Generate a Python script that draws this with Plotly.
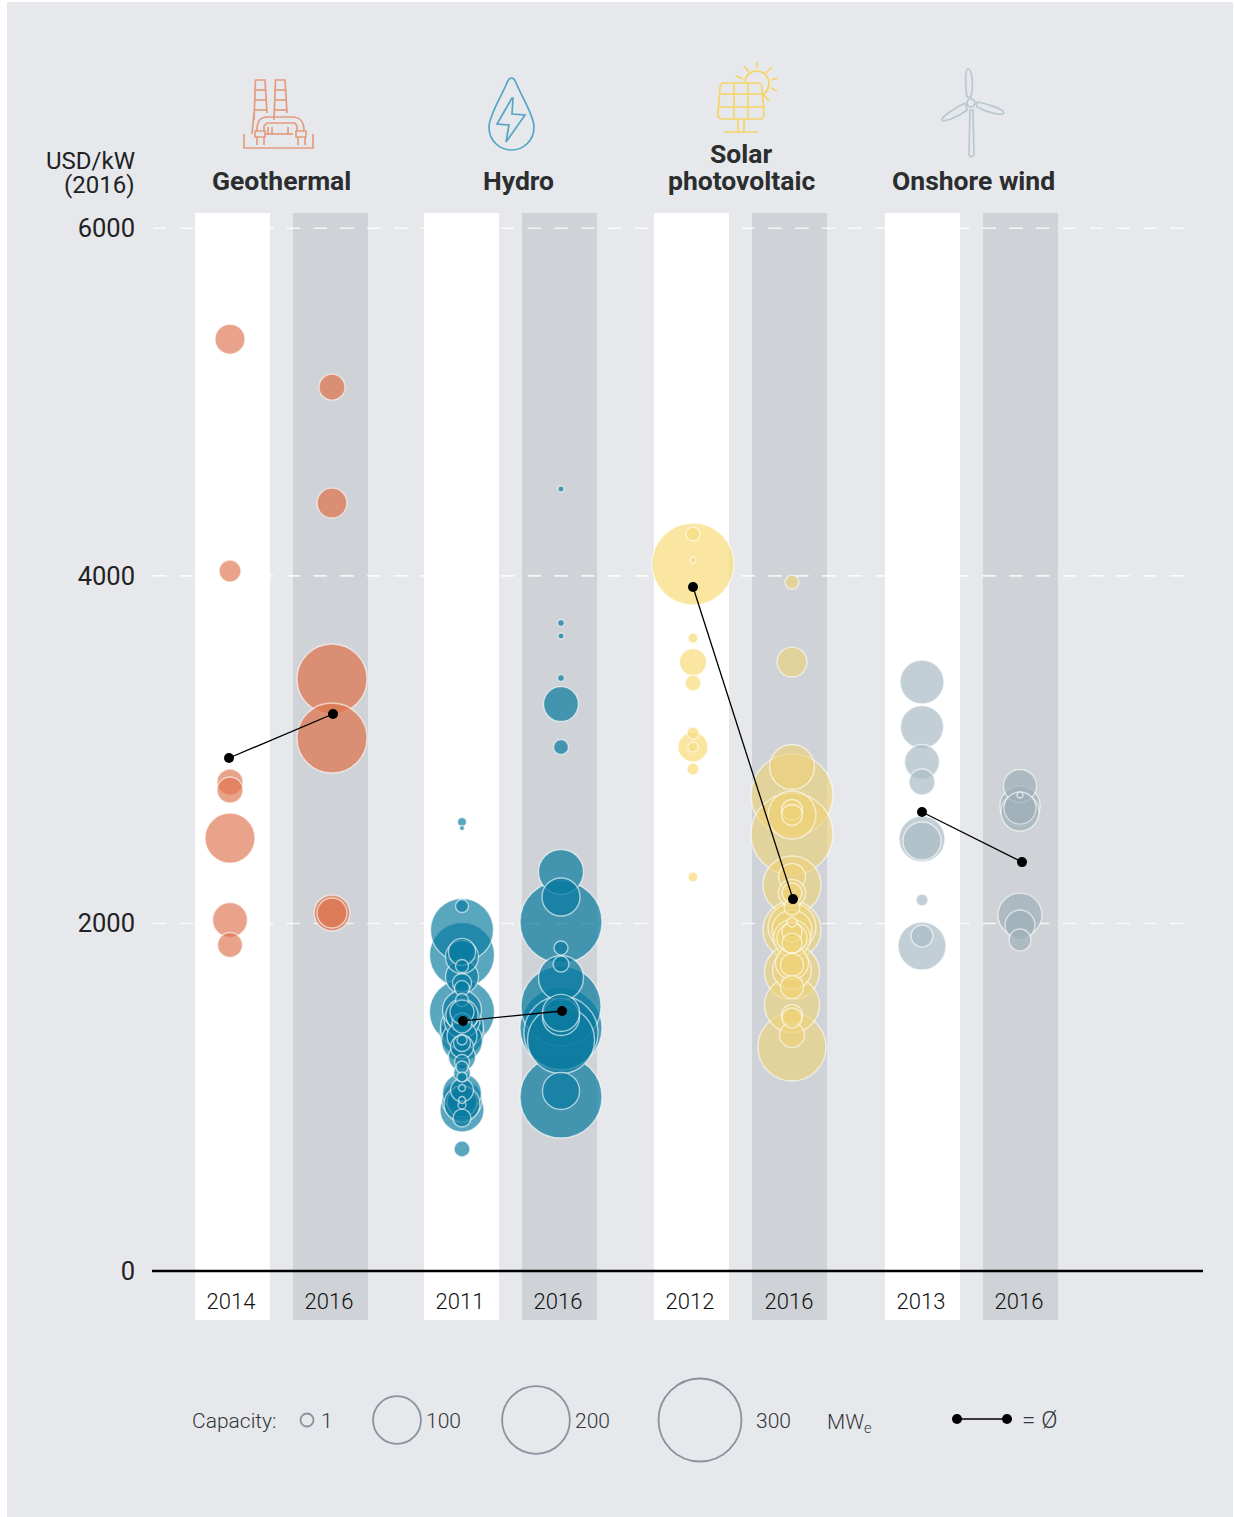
import plotly.graph_objects as go

# ---------- data ----------
y_ticks = [0, 2000, 4000, 6000]
band_years = ["2014", "2016", "2011", "2016", "2012", "2016", "2013", "2016"]
band_top = 6088
band_bottom = -282

geo_2014_usd = [2491, 5362, 4028, 2814, 2768, 2020, 1876]
geo_2014_mw = [109, 39, 21, 29.5, 29.5, 53, 27]
geo_2016_usd = [3406, 3067, 5086, 4419, 2060, 2060]
geo_2016_mw = [214, 214, 29.5, 39, 56, 39]

hydro_2011_usd = [1818, 1962, 1490, 926, 1364, 1404, 1323, 984, 1024, 972, 961, 1444, 1692, 1502, 1807, 1473, 1352, 1231, 1836, 1289, 1041,
                  1427, 880, 1657, 1139, 702, 1628, 1203, 1312, 1174, 1559, 1490, 1755, 2100, 1116, 1329, 955, 984, 1053, 2584, 2549]
hydro_2011_mw = [184, 173, 184, 84, 84, 81, 73, 70, 66, 39, 56, 56, 47.5, 66, 47.5, 45, 39, 32, 32, 23, 23,
                 17.4, 14, 15.7, 12.6, 11, 9.8, 9.8, 12.6, 6.3, 7.4, 25, 7.4, 7.4, 4.4, 4.4, 2.8, 2.1, 2.1, 3.5, 1.1]
hydro_2016_usd = [1001, 2008, 1398, 1525, 1369, 1329, 1686, 2296, 2152, 1462, 1485, 1036, 3262, 1766, 3015, 1859, 3729, 3412, 3654, 4500]
hydro_2016_mw = [293, 293, 293, 279, 239, 196, 88, 88, 63, 60, 60, 60, 53, 11, 9.8, 8.5, 2.1, 2.1, 1.6, 1.6]

solar_2012_usd = [4068, 3504, 3015, 3383, 4241, 3642, 3096, 2889, 2267, 3015, 4091]
solar_2012_mw = [293, 32, 39, 11, 8.5, 4.4, 6.3, 6.3, 4.4, 4.4, 1.6]
solar_2016_usd = [2739, 2514, 1289, 2221, 1962, 1720, 1531, 2624, 1979, 2900, 1732, 1962, 1916, 3504, 1772,
                  2267, 2175, 1358, 1916, 1761, 1634, 2653, 2624, 1473, 1951, 1887, 1456, 2175, 2094, 3964, 2008]
solar_2016_mw = [293, 293, 202, 147, 147, 132, 132, 100, 100, 88, 66, 70, 60, 39, 47.5,
                 32, 32, 27, 39, 23, 23, 19, 19, 19, 17.4, 17.4, 17.4, 17.4, 11, 8.5, 4.4]

wind_2013_usd = [1870, 2486, 3389, 3130, 2474, 2929, 2814, 1928, 2135]
wind_2013_mw = [100, 92, 84, 81, 63, 53, 29.5, 21, 6.3]
wind_2016_usd = [2048, 2676, 2641, 2791, 2664, 1991, 1905, 2739]
wind_2016_mw = [84, 70, 63, 47.5, 45, 39, 21, 1.6]

mean_geo = [2952, 3205]
mean_hydro = [1439, 1496]
mean_solar = [3936, 2140]
mean_wind = [2641, 2353]

legend_labels = ["1", "100", "200", "300"]
legend_ring_mw = [7.4, 100, 200, 300]

# ---------- layout constants (the x axis runs in canvas pixels) ----------
W, H = 1234, 1517
BASE_PY, TOP_PY = 1271, 213
band_x = [232.5, 330.5, 461.5, 559.5, 691.5, 789.5, 922.5, 1020.5]
tick_x = [231, 329, 460, 558, 690, 789, 921, 1019]
bubble_x = [230, 332, 462, 561, 693, 792, 922, 1020]
mean_x = [(229, 333), (463, 562), (693, 793), (922, 1022)]
USD_PER_PX = band_top / (BASE_PY - TOP_PY)
SIZEREF = 2 / 4.79 ** 2
BG = "#E6E8EC"
FONT = "Roboto"
INK = "#2B2D2F"


def val(py):
    return (BASE_PY - py) * USD_PER_PX


def fx(px):
    return px / W


def fy(py):
    return (H - py) / H


def icon_path(points):
    out = []
    for p in points:
        if isinstance(p, str):
            out.append(p)
        else:
            out.append(f"{fx(p[0]):.5f},{fy(p[1]):.5f}")
    return " ".join(out)


def poly(*pts, close=False):
    cmds = ["M", pts[0]]
    for p in pts[1:]:
        cmds += ["L", p]
    if close:
        cmds.append("Z")
    return icon_path(cmds)


def curve(*pts, close=False):
    cmds = ["M", pts[0]]
    for i in range(1, len(pts), 3):
        cmds += ["C", pts[i], pts[i + 1], pts[i + 2]]
    if close:
        cmds.append("Z")
    return icon_path(cmds)


def circle_path(cx, cy, r):
    k = 0.5523 * r
    return curve((cx + r, cy), (cx + r, cy + k), (cx + k, cy + r), (cx, cy + r),
                 (cx - k, cy + r), (cx - r, cy + k), (cx - r, cy),
                 (cx - r, cy - k), (cx - k, cy - r), (cx, cy - r),
                 (cx + k, cy - r), (cx + r, cy - k), (cx + r, cy), close=True)


fig = go.Figure()

# bands
fig.add_trace(go.Bar(x=band_x[0::2], y=[band_top - band_bottom] * 4, base=band_bottom, width=75,
                     marker=dict(color="#FFFFFF", line_width=0), hoverinfo="skip"))
fig.add_trace(go.Bar(x=band_x[1::2], y=[band_top - band_bottom] * 4, base=band_bottom, width=75,
                     marker=dict(color="#CFD2D6", line_width=0), hoverinfo="skip"))

# dashed gridlines
for t in y_ticks[1:]:
    fig.add_trace(go.Scatter(x=[153, 1184], y=[t, t], mode="lines",
                             line=dict(color="rgba(255,255,255,0.8)", width=1.6, dash="13.4px,13.36px"),
                             hoverinfo="skip"))

# baseline
fig.add_trace(go.Scatter(x=[152, 1203], y=[0, 0], mode="lines", line=dict(color="#000000", width=2.3), hoverinfo="skip"))

# bubbles
series = [
    (0, geo_2014_usd, geo_2014_mw, "rgba(222,116,78,0.66)"),
    (1, geo_2016_usd, geo_2016_mw, "rgba(222,116,78,0.72)"),
    (2, hydro_2011_usd, hydro_2011_mw, "rgba(11,124,160,0.68)"),
    (3, hydro_2016_usd, hydro_2016_mw, "rgba(11,124,160,0.72)"),
    (4, solar_2012_usd, solar_2012_mw, "rgba(248,220,125,0.72)"),
    (5, solar_2016_usd, solar_2016_mw, "rgba(238,210,120,0.62)"),
    (6, wind_2013_usd, wind_2013_mw, "rgba(170,188,198,0.72)"),
    (7, wind_2016_usd, wind_2016_mw, "rgba(160,176,186,0.72)"),
]
for idx, usd, mw, col in series:
    fig.add_trace(go.Scatter(
        x=[bubble_x[idx]] * len(usd), y=usd, mode="markers",
        marker=dict(size=mw, sizemode="area", sizeref=SIZEREF, color=col, opacity=1,
                    line=dict(color="rgba(255,255,255,0.6)", width=1.4)),
        hovertemplate="%{y} USD/kW<br>%{marker.size} MW<extra></extra>"))

# mean connectors
for xs, ys in zip(mean_x, [mean_geo, mean_hydro, mean_solar, mean_wind]):
    fig.add_trace(go.Scatter(x=list(xs), y=ys, mode="lines+markers",
                             line=dict(color="#000000", width=1.3),
                             marker=dict(color="#000000", size=10), hoverinfo="skip"))

# capacity legend
fig.add_trace(go.Scatter(
    x=[307, 397, 536, 700], y=[val(1420)] * 4, mode="markers",
    marker=dict(size=legend_ring_mw, sizemode="area", sizeref=SIZEREF, color="rgba(0,0,0,0)", opacity=1,
                line=dict(color="#87939F", width=1.8)), hoverinfo="skip"))
fig.add_trace(go.Scatter(x=[957, 1007], y=[val(1419)] * 2, mode="lines+markers",
                         line=dict(color="#000000", width=1.3),
                         marker=dict(color="#000000", size=10), hoverinfo="skip"))


def text(x, py, s, size=21, anchor="left", weight=300, color="#33363A"):
    fig.add_annotation(x=x, y=val(py), xref="x", yref="y", text=s, showarrow=False,
                       xanchor=anchor, yanchor="middle", align=anchor,
                       font=dict(family=FONT, size=size, color=color, weight=weight))


text(190, 1421, "Capacity:")
for xp, lab in zip([319, 424, 573, 754], legend_labels):
    text(xp, 1421, lab)
text(825, 1423, "MW<sub>e</sub>")
text(1020, 1420, "= Ø", size=24)

# headings
text(281, 180, "Geothermal", size=26.5, anchor="center", weight=700, color=INK)
text(518, 180, "Hydro", size=26.5, anchor="center", weight=700, color=INK)
text(741, 153, "Solar", size=26.5, anchor="center", weight=700, color=INK)
text(741, 180, "photovoltaic", size=26.5, anchor="center", weight=700, color=INK)
text(973, 180, "Onshore wind", size=26.5, anchor="center", weight=700, color=INK)
text(137, 161, "USD/kW", size=24, anchor="right", weight=400, color="#222222")
text(137, 185, "(2016)", size=24, anchor="right", weight=400, color="#222222")

# ---------- icons ----------
GEO, HYD, SOL, WND = "#E39C80", "#53A6C1", "#F6D566", "#B9C8CF"
shapes = [dict(type="rect", xref="paper", yref="paper", x0=fx(7), x1=fx(1233), y0=fy(1517), y1=fy(2),
               fillcolor=BG, line_width=0, layer="below")]


def stroke(path, col, width=1.7):
    shapes.append(dict(type="path", xref="paper", yref="paper", path=path,
                       line=dict(color=col, width=width), layer="above"))


# geothermal plant
for x0 in (254, 274):
    stroke(poly((x0, 120), (x0 + 1.5, 80), (x0 + 11, 80), (x0 + 13, 113)), GEO)
    for yy in (90, 100, 110):
        stroke(poly((x0 + 0.5, yy), (x0 + 12, yy)), GEO)
stroke(poly((252, 134), (254, 113)), GEO)
stroke(poly((244, 134), (244, 148), (313, 148), (313, 134)), GEO)
stroke(curve((257, 131), (257, 122), (259, 117), (268, 117)) + " " + poly((268, 117), (292, 117)) + " " +
       curve((292, 117), (301, 117), (304, 122), (304, 131)), GEO)
stroke(poly((264, 131), (264, 126), (267, 123), (295, 123), (297, 126), (297, 131)), GEO)
stroke(poly((266, 134), (293, 134)), GEO)
stroke(poly((268, 127), (268, 134)), GEO)
stroke(poly((272, 127), (272, 134)), GEO)
stroke(poly((288, 127), (288, 134)), GEO)
stroke(poly((255, 131), (265, 131), (265, 137), (255, 137), close=True), GEO)
stroke(poly((296, 131), (306, 131), (306, 137), (296, 137), close=True), GEO)
for xx in (257, 264, 298, 305):
    stroke(poly((xx, 137), (xx, 145)), GEO)

# hydro drop with bolt
stroke(curve((511.5, 78), (509, 78), (508, 80), (506, 85),
             (500, 99), (489, 116), (489, 127),
             (489, 141), (500, 150), (511.5, 150),
             (523, 150), (534, 141), (534, 127),
             (534, 116), (523, 99), (517, 85),
             (515, 80), (514, 78), (511.5, 78), close=True), HYD)
stroke(poly((512, 98), (497, 124), (509, 125), (506, 142), (525, 115), (512, 114), (513, 98), close=True), HYD)

# solar panel + sun
stroke(curve((725, 83), (721, 83), (720, 86), (720, 88)) + " " +
       poly((720, 88), (718, 114)) + " " +
       curve((718, 114), (718, 117), (720, 119), (723, 119)) + " " +
       poly((723, 119), (760, 119)) + " " +
       curve((760, 119), (763, 119), (764, 117), (764, 114)) + " " +
       poly((764, 114), (762, 88)) + " " +
       curve((762, 88), (762, 85), (760, 83), (757, 83)) + " " + poly((757, 83), (725, 83)), SOL)
stroke(poly((719, 94), (763, 94)), SOL)
stroke(poly((718, 107), (764, 107)), SOL)
stroke(poly((734, 83), (734, 119)), SOL)
stroke(poly((748, 83), (748, 119)), SOL)
stroke(poly((738, 119), (738, 132)), SOL)
stroke(poly((744, 119), (744, 132)), SOL)
stroke(poly((724, 132), (758, 132)), SOL)
stroke(curve((745, 83), (745, 75), (751, 71), (757, 71),
             (764, 71), (769, 77), (769, 83),
             (769, 88), (767, 92), (763, 95)), SOL)
for a, b in [((757, 62), (757, 68)), ((744, 66), (749, 72)), ((736, 76), (743, 79)), ((772, 67), (766, 73)),
             ((778, 78), (771, 80)), ((777, 91), (771, 88)), ((769, 101), (764, 95))]:
    stroke(poly(a, b), SOL)

# wind turbine
stroke(circle_path(971, 103, 4), WND)
stroke(curve((967, 97), (965, 85), (965, 69), (968, 69),
             (972, 69), (974, 85), (971, 97), (969, 97.5), (968, 97.5), (967, 97)), WND)
stroke(curve((977, 102), (990, 104), (1004, 110), (1004, 113),
             (1003, 116), (988, 113), (977, 107), (976, 105), (976, 104), (977, 102)), WND)
stroke(curve((965, 103), (955, 108), (941, 117), (942, 120),
             (943, 123), (958, 117), (967, 110), (967, 108), (966, 105), (965, 103)), WND)
stroke(poly((970, 110), (969, 155), (971, 157), (974, 155), (973, 110), close=True), WND)

fig.update_layout(
    width=W, height=H, autosize=False, showlegend=False,
    paper_bgcolor="#FFFFFF", plot_bgcolor="rgba(0,0,0,0)",
    barmode="overlay", bargap=0,
    margin=dict(l=0, r=0, t=0, b=0, pad=0),
    shapes=shapes,
    font=dict(family=FONT, color="#222222"),
    xaxis=dict(range=[0, W], showgrid=False, zeroline=False, showline=False,
               anchor="free", position=(H - BASE_PY) / H,
               tickmode="array", tickvals=tick_x, ticktext=band_years, ticks="outside", ticklen=11,
               tickcolor="rgba(0,0,0,0)", tickfont=dict(family=FONT, size=22, color="#111111", weight=300)),
    yaxis=dict(range=[val(H), val(0)], showgrid=False, zeroline=False, showline=False,
               anchor="free", position=135 / W,
               tickmode="array", tickvals=y_ticks, ticktext=[str(t) for t in y_ticks], ticks="",
               tickfont=dict(family=FONT, size=25.5, color="#222222", weight=400)),
)

fig.write_html("out.html", config=dict(displayModeBar=False),
               post_script="document.body.style.margin='0';document.documentElement.style.overflow='hidden';")
